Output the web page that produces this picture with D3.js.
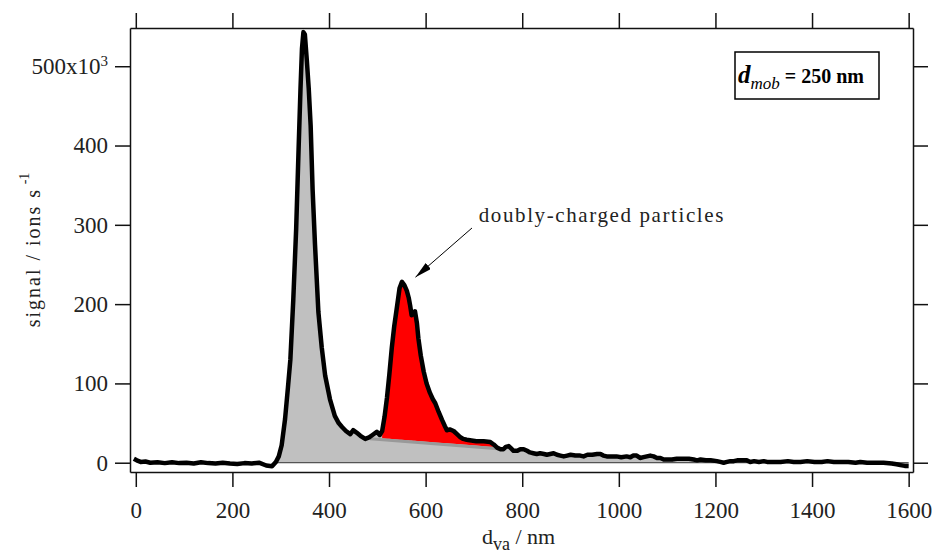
<!DOCTYPE html>
<html lang="en">
<head>
<meta charset="utf-8">
<title>signal vs d_va</title>
<script src="https://cdn.jsdelivr.net/npm/d3@7"></script>
<style>
  body { margin: 0; background: #fff; }
  svg { display: block; font-family: "Liberation Serif", "Times New Roman", serif; }
</style>
</head>
<body>
<script>
// vacuum aerodynamic diameter (nm) and signal (x10^3 ions/s)
var dva = [-4, 2, 10, 20, 30, 45, 60, 75, 90, 105, 120, 135, 150, 165, 180, 195, 210, 225, 240, 255,
  270, 282, 290, 296, 302, 309, 315, 320, 326, 332, 337, 341, 344, 347, 350, 354, 358, 362, 366, 371,
  378, 385, 392, 402, 412, 420, 427, 435, 444, 450, 457, 465, 475, 483, 490, 499, 505, 510, 515, 520,
  525, 530, 535, 541, 546, 551, 556, 561, 565, 568, 571, 574, 578, 582, 585, 590, 596, 602, 609, 615,
  620, 627, 634, 640, 644, 650, 658, 665, 672, 678, 685, 695, 705, 720, 734, 741, 748, 755, 761, 766,
  772, 777, 782, 790, 796, 803, 810, 816, 823, 830, 837, 845, 851, 858, 865, 872, 879, 886, 893, 900,
  910, 920, 927, 935, 945, 955, 962, 968, 975, 985, 995, 1005, 1016, 1024, 1030, 1037, 1044, 1051, 1058, 1065,
  1072, 1079, 1086, 1093, 1100, 1110, 1120, 1134, 1145, 1155, 1162, 1169, 1180, 1190, 1203, 1210, 1217, 1224, 1231, 1238,
  1245, 1252, 1258, 1265, 1272, 1280, 1290, 1300, 1307, 1320, 1335, 1350, 1362, 1376, 1390, 1405, 1420, 1432, 1445, 1460,
  1475, 1490, 1500, 1514, 1530, 1548, 1565, 1575, 1583, 1592, 1600];
var signal = [5, 3, 1, 1.5, 0, 0.5, -0.5, 0.5, -0.5, 0, -1, 0.5, -0.5, -1, 0, -1, -1.5, -0.5, -1, 0,
  -3.5, -4.5, 1, 8, 22, 55, 95, 130, 205, 295, 395, 472, 522, 543, 540, 508, 472, 425, 345, 275,
  190, 145, 110, 80, 59, 50, 45, 40, 36, 41, 38, 34, 30, 32, 35, 39, 35, 40, 58, 82,
  112, 145, 172, 198, 220, 228, 224, 217, 208, 198, 186, 188, 191, 176, 157, 135, 115, 100, 88, 80,
  75, 64, 54, 46, 41, 42, 40, 36, 32, 30, 29, 28, 27, 27, 26, 23, 19, 17, 17, 20,
  21, 18, 15, 15, 17, 17, 15, 13, 12, 11, 12, 11, 10, 11, 12, 10, 9, 8, 9, 10,
  9, 9, 8, 10, 10, 11, 11, 9, 8, 8, 8, 7, 8, 7, 9, 9, 6, 7, 8, 9,
  8, 6, 6, 4, 4, 4, 5, 5, 5, 4, 3, 4, 3, 3, 2, 1, 0, 1, 2, 2,
  3, 3, 3, 3, 1, 2, 1, 2, 1, 1, 1, 2, 1, 1, 2, 1, 1, 2, 1, 1,
  1, 0, 1, 0, 0, 0, -1, -2, -3, -4, -4];

// sloping background under the doubly-charged peak
var bgDva = [485, 750];
var bgSignal = [32, 19.5];
var redRange = [508, 748];
var grayStart = 290;

var xTicks = [0, 200, 400, 600, 800, 1000, 1200, 1400, 1600];
var yTicks = [0, 100, 200, 300, 400, 500];

var margin = {top: 28, right: 20, bottom: 81, left: 130},
    width = 933 - margin.left - margin.right,
    height = 553 - margin.top - margin.bottom;

var svg = d3.select("body").append("svg")
    .attr("width", 933)
    .attr("height", 553);

var g = svg.append("g")
    .attr("transform", "translate(" + margin.left + "," + margin.top + ")");

var xScale = d3.scaleLinear().domain([-12, 1609]).range([0, width]);
var yScale = d3.scaleLinear().domain([-11.7, 548.2]).range([height, 0]);
var bgScale = d3.scaleLinear().domain(bgDva).range(bgSignal);

var pts = dva.map(function(d, i) { return {x: d, y: signal[i]}; });

// gray fill under the whole trace
var grayArea = d3.area()
    .x(function(d) { return xScale(d.x); })
    .y0(yScale(0))
    .y1(function(d) { return yScale(d.y); });

g.append("path")
    .datum(pts.filter(function(d) { return d.x >= grayStart; }))
    .attr("fill", "#c0c0c0")
    .attr("d", grayArea);

g.append("line")
    .attr("x1", xScale(grayStart)).attr("x2", xScale(1600))
    .attr("y1", yScale(0)).attr("y2", yScale(0))
    .attr("stroke", "#333").attr("stroke-width", 1);

// red fill: doubly-charged particles above background
var redArea = d3.area()
    .x(function(d) { return xScale(d.x); })
    .y0(function(d) { return yScale(bgScale(d.x)); })
    .y1(function(d) { return yScale(Math.max(d.y, bgScale(d.x))); });

g.append("path")
    .datum(pts.filter(function(d) { return d.x >= redRange[0] && d.x <= redRange[1]; }))
    .attr("fill", "#ff0000")
    .attr("d", redArea);

// darker background stripe
g.append("line")
    .attr("x1", xScale(bgDva[0])).attr("x2", xScale(bgDva[1]))
    .attr("y1", yScale(bgSignal[0]) + 1.5).attr("y2", yScale(bgSignal[1]) + 1.5)
    .attr("stroke", "#999").attr("stroke-width", 3);

// the trace
var line = d3.line()
    .x(function(d) { return xScale(d.x); })
    .y(function(d) { return yScale(d.y); });

g.append("path")
    .datum(pts)
    .attr("fill", "none")
    .attr("stroke", "#000")
    .attr("stroke-width", 4.5)
    .attr("stroke-linejoin", "round")
    .attr("d", line);

// axes
var xAxis = d3.axisBottom(xScale).tickValues(xTicks).tickSize(15).tickSizeOuter(0).tickPadding(15).tickFormat(d3.format("d"));
var xAxisTop = d3.axisTop(xScale).tickValues(xTicks).tickSize(15).tickSizeOuter(0).tickFormat("");
var yAxis = d3.axisLeft(yScale).tickValues(yTicks).tickSize(15).tickSizeOuter(0).tickPadding(7).tickFormat(d3.format("d"));
var yAxisRight = d3.axisRight(yScale).tickValues(yTicks).tickSize(15).tickSizeOuter(0).tickFormat("");

function styleAxis(sel) {
  sel.attr("color", "#111")
     .attr("font-family", "Liberation Serif, serif")
     .attr("font-size", 23);
  sel.selectAll("path, line").attr("stroke-width", 1.5);
  sel.selectAll("text").attr("fill", "#222");
}

g.append("g").attr("transform", "translate(0," + height + ")").call(xAxis).call(styleAxis);
g.append("g").call(xAxisTop).call(styleAxis);
g.append("g").call(yAxis).call(styleAxis)
  .selectAll(".tick text")
  .each(function(d) {
    if (d === 500) {
      var t = d3.select(this).text("");
      t.append("tspan").text("500x10");
      t.append("tspan").attr("dy", "-0.55em").attr("font-size", 15).text("3");
    }
  });
g.append("g").attr("transform", "translate(" + width + ",0)").call(yAxisRight).call(styleAxis);

// axis titles
var xLabel = svg.append("text")
    .attr("x", 482).attr("y", 544)
    .attr("font-size", 22).attr("fill", "#222");
xLabel.append("tspan").text("d");
xLabel.append("tspan").attr("dy", 6).attr("font-size", 18).text("va");
xLabel.append("tspan").attr("dy", -6).text(" / nm");

var yLabel = svg.append("text")
    .attr("transform", "translate(40,250) rotate(-90)")
    .attr("text-anchor", "middle")
    .attr("font-size", 20).attr("letter-spacing", 2).attr("fill", "#222");
yLabel.append("tspan").text("signal / ions s");
yLabel.append("tspan").attr("dy", -11).attr("font-size", 14).attr("letter-spacing", 0).text(" -1");

// annotation: doubly-charged particles
var tip = {x: 579, y: 234}, tail = {x: 696, y: 296}, labelAt = {x: 710, y: 303};

svg.append("defs").append("marker")
    .attr("id", "head")
    .attr("markerUnits", "userSpaceOnUse")
    .attr("markerWidth", 18).attr("markerHeight", 8)
    .attr("refX", 17).attr("refY", 4)
    .attr("orient", "auto")
  .append("path")
    .attr("d", "M0,0 L17,4 L0,8 Z")
    .attr("fill", "#000");

g.append("line")
    .attr("x1", xScale(tail.x)).attr("y1", yScale(tail.y))
    .attr("x2", xScale(tip.x)).attr("y2", yScale(tip.y))
    .attr("stroke", "#000").attr("stroke-width", 1)
    .attr("marker-end", "url(#head)");

g.append("text")
    .attr("x", xScale(labelAt.x)).attr("y", yScale(labelAt.y))
    .attr("font-size", 21).attr("letter-spacing", 1.6).attr("fill", "#222")
    .text("doubly-charged particles");

// d_mob box
var box = svg.append("g").attr("transform", "translate(735,52)");
box.append("rect")
    .attr("width", 144).attr("height", 47)
    .attr("fill", "#fff").attr("stroke", "#000").attr("stroke-width", 1.5);
var bt = box.append("text").attr("x", 3).attr("y", 31).attr("fill", "#000");
bt.append("tspan").attr("font-size", 25).attr("font-weight", "bold").attr("font-style", "italic").text("d");
bt.append("tspan").attr("font-size", 17).attr("font-style", "italic").attr("dy", 6).text("mob");
bt.append("tspan").attr("font-size", 20).attr("font-weight", "bold").attr("dy", -6).text(" = 250 nm");
</script>
</body>
</html>
